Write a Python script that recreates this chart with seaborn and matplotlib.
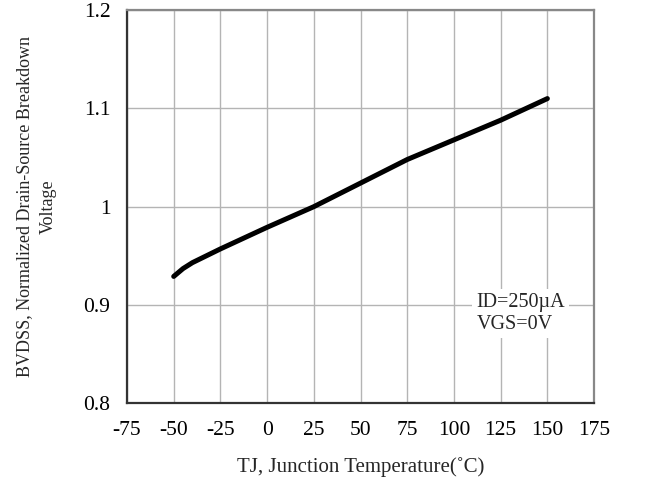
import numpy as np
import pandas as pd
import matplotlib
matplotlib.use("Agg")
import matplotlib.pyplot as plt
import seaborn as sns

# curve
temp_c = [-50, -45, -40, -25, 0, 25, 50, 75, 100, 125, 150]
bv_norm = [0.929, 0.937, 0.943, 0.957, 0.979, 1.0, 1.024, 1.048, 1.068, 1.088, 1.11]

x_ticks = [-75, -50, -25, 0, 25, 50, 75, 100, 125, 150, 175]
y_ticks = [0.8, 0.9, 1.0, 1.1, 1.2]
y_tick_labels = ["0.8", "0.9", "1", "1.1", "1.2"]

df = pd.DataFrame({"temp": temp_c, "bv": bv_norm})

sns.set_style("white")
plt.rcParams["font.family"] = ["Liberation Serif", "DejaVu Serif"]
plt.rcParams["axes.unicode_minus"] = False

fig = plt.figure(figsize=(6.56, 4.84), dpi=100)
ax = fig.add_axes([0.1936, 0.167, 0.712, 0.812])

sns.lineplot(data=df, x="temp", y="bv", color="black", linewidth=3.6,
             ax=ax, solid_capstyle="round", solid_joinstyle="round")

ax.set_xlim(-75, 175)
ax.set_ylim(0.8, 1.2)
ax.set_xticks(x_ticks)
ax.set_yticks(y_ticks)
ax.set_yticklabels(y_tick_labels)
ax.grid(True, color="#b4b4b4", linewidth=1)
ax.tick_params(axis="y", labelsize=15.5, length=0, pad=12, colors="black")
ax.tick_params(axis="x", labelsize=15.5, length=0, pad=13, colors="black")

for side in ["left", "bottom"]:
    ax.spines[side].set_color("#333333")
    ax.spines[side].set_linewidth(1.6)
for side in ["top", "right"]:
    ax.spines[side].set_color("#888888")
    ax.spines[side].set_linewidth(1.6)

ax.set_xlabel("TJ, Junction Temperature(˚C)", fontsize=15, labelpad=12)
ax.set_ylabel("BVDSS, Normalized Drain-Source Breakdown\nVoltage",
              fontsize=13, labelpad=19, linespacing=1.5)

ax.text(112, 0.891, "ID=250µA\nVGS=0V", fontsize=14.5, va="center", ha="left",
        linespacing=1.2,
        bbox=dict(facecolor="white", edgecolor="none", pad=3))

fig.savefig("out.png", dpi=100)
